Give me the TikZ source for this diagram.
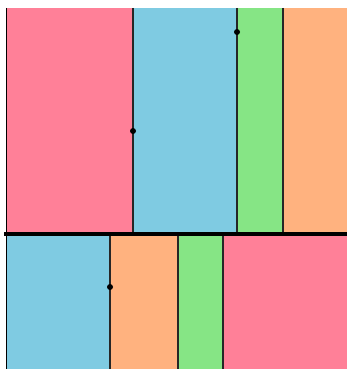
\documentclass[tikz,border=0pt]{standalone}
\definecolor{cpink}{RGB}{255,128,152}
\definecolor{cblue}{RGB}{127,203,226}
\definecolor{cgreen}{RGB}{134,229,133}
\definecolor{corange}{RGB}{255,178,127}
\begin{document}
\begin{tikzpicture}[x=1pt,y=-1pt,
  divider/.style={draw=black!85,line width=1.2pt},
  dot/.style={fill=black}]
\useasboundingbox (0,0) rectangle (347,369);
% top band
\fill[cpink] (6,8) rectangle (133,232);
\fill[cblue] (133,8) rectangle (237,232);
\fill[cgreen] (237,8) rectangle (283,232);
\fill[corange] (283,8) rectangle (347,232);
% bottom band
\fill[cblue] (6,234) rectangle (110,369);
\fill[corange] (110,234) rectangle (178,369);
\fill[cgreen] (178,234) rectangle (223,369);
\fill[cpink] (223,234) rectangle (347,369);
% dividers
\draw[divider] (133,8) -- (133,232);
\draw[divider] (237,8) -- (237,232);
\draw[divider] (283,8) -- (283,232);
\draw[divider] (110,234) -- (110,369);
\draw[divider] (178,234) -- (178,369);
\draw[divider] (223,234) -- (223,369);
\draw[black,line width=1.2pt] (6.5,8) -- (6.5,369);
% thick separator
\draw[black,line width=4pt] (4,233.8) -- (347,233.8);
% dots
\fill[dot] (133,131) circle (3);
\fill[dot] (237,32) circle (3);
\fill[dot] (110,287) circle (3);
\end{tikzpicture}
\end{document}
